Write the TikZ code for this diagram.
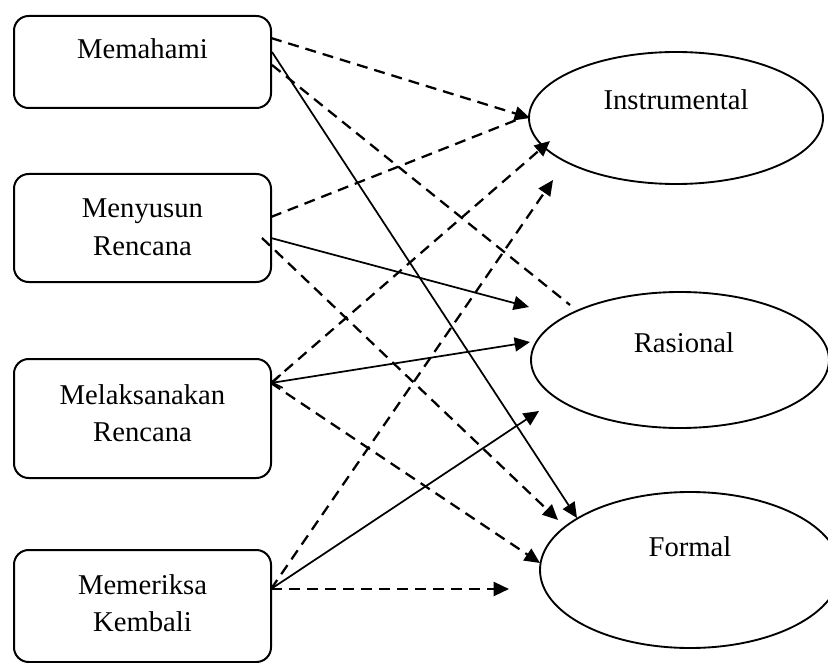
\documentclass[tikz,border=0pt]{standalone}
\usepackage{fontspec}
\setmainfont{Liberation Serif}
\usetikzlibrary{arrows.meta,shapes.geometric,fit}
\begin{document}
\begin{tikzpicture}[x=0.75pt,y=-0.75pt,
 box/.style={draw, line width=1.5pt, rounded corners=11pt, inner sep=0pt},
 oval/.style={draw, ellipse, line width=1.4pt, inner sep=0pt},
 lbl/.style={anchor=base, inner sep=0pt, font=\fontsize{21.5}{26}\selectfont},
 dsh/.style={line width=1.7pt, dash pattern=on 8.25pt off 5.25pt},
 sld/.style={line width=1.3pt},
 tip/.style={-{Triangle[length=11.5pt,width=10.5pt]}},
]
\useasboundingbox (0,0) rectangle (828,663);
\clip (0,0) rectangle (828,663);

% boxes
\node[box, fit={(14,16) (271,108)}] (b1) {};
\node[box, fit={(14,174) (271,282)}] (b2) {};
\node[box, fit={(14,359) (271,478)}] (b3) {};
\node[box, fit={(14,550) (271,662)}] (b4) {};

% ellipses
\node[oval, minimum width=220.5pt, minimum height=99pt] (I) at (676,118) {};
\node[oval, minimum width=223.5pt, minimum height=102pt] (R) at (680,360) {};
\node[oval, minimum width=225pt, minimum height=117pt] (F) at (690,570) {};

% labels
\node[lbl] (t1) at (142.5,59) {Memahami};
\node[lbl] (t2a) at (142.5,218) {Menyusun};
\node[lbl] (t2b) at (142.5,255) {Rencana};
\node[lbl] (t3a) at (142.5,404) {Melaksanakan};
\node[lbl] (t3b) at (142.5,441) {Rencana};
\node[lbl] (t4a) at (142.5,594) {Memeriksa};
\node[lbl] (t4b) at (142.5,631) {Kembali};
\node[lbl] (tI) at (676,110) {Instrumental};
\node[lbl] (tR) at (684,352) {Rasional};
\node[lbl] (tF) at (690,556) {Formal};

% connector end points
\coordinate (m1) at (271,38);
\coordinate (m2) at (272,52);
\coordinate (m3) at (272,65);
\coordinate (s1) at (271,217);
\coordinate (s2) at (271,238);
\coordinate (s3) at (262,238);
\coordinate (l1) at (271,383);
\coordinate (k1) at (271,589);

\coordinate (tI1) at (530,118);
\coordinate (tI1b) at (524,117);
\coordinate (tI2) at (550,141);
\coordinate (tI3) at (553,180);
\coordinate (tR0) at (570,305);
\coordinate (tR1) at (529,307);
\coordinate (tR2) at (530,342);
\coordinate (tR3) at (539,411);
\coordinate (tF1) at (558,520);
\coordinate (tF2) at (577,518);
\coordinate (tF3) at (540,563);
\coordinate (tF4) at (509,589);

% connectors
\draw[dsh,tip] (m1) -- (tI1);
\draw[sld,tip] (m2) -- (tF2);
\draw[dsh] (m3) -- (tR0);
\draw[dsh] (s1) -- (tI1b);
\draw[sld,tip] (s2) -- (tR1);
\draw[dsh,tip] (s3) -- (tF1);
\draw[sld,{Straight Barb[length=7pt,width=10pt]}-{Triangle[length=11.5pt,width=10.5pt]}] (l1) -- (tR2);
\draw[dsh,tip] (l1) -- (tI2);
\draw[dsh,tip] (l1) -- (tF3);
\draw[dsh,tip] (k1) -- (tI3);
\draw[sld,tip] (k1) -- (tR3);
\draw[dsh,tip] (k1) -- (tF4);
\end{tikzpicture}
\end{document}
